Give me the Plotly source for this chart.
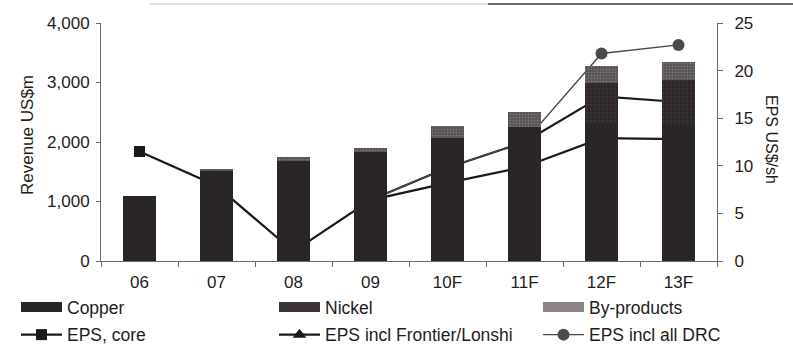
import plotly.graph_objects as go

# Revenue split (US$m) and EPS scenarios (US$/sh)
years = ["06", "07", "08", "09", "10F", "11F", "12F", "13F"]
copper = [1100, 1510, 1680, 1830, 2070, 2260, 2310, 2290]
nickel = [0, 0, 0, 0, 0, 0, 675, 760]
byproducts = [0, 40, 70, 70, 200, 240, 290, 300]
eps_core = [11.5, 7.9, 1.0, 6.4, 8.2, 9.9, 12.9, 12.8]
eps_frontier = [None, None, None, 6.4, 9.8, 12.5, 17.3, 16.7]
eps_drc = [None, None, None, 6.4, 9.8, 12.5, 21.8, 22.7]
rev_ticks = [0, 1000, 2000, 3000, 4000]
eps_ticks = [0, 5, 10, 15, 20, 25]

W, H = 793, 350
ML, MR, MT, MB = 101, 76, 23, 89
PW, PH = W - ML - MR, H - MT - MB
FONT = "Liberation Sans, Arial, sans-serif"
INK = "#1f1c1c"

def px_x(p):
    return (p - ML) / PW

def px_y(p):
    return (H - MB - p) / PH

fig = go.Figure()

# EPS lines on the primary (right-hand) axis so the bars sit on top of them
line_specs = [
    ("EPS, core", eps_core, "square", 11, "#1a1a1a", 2.2, "legend"),
    ("EPS incl Frontier/Lonshi", eps_frontier, "triangle-up", 12, "#1a1a1a", 2.2, "legend2"),
    ("EPS incl all DRC", eps_drc, "circle", 12, "#4a4a4a", 1.4, "legend3"),
]
for name, vals, sym, size, col, lw, leg in line_specs:
    fig.add_trace(go.Scatter(
        x=years, y=vals, name=name, mode="lines+markers", yaxis="y",
        line=dict(color=col, width=lw),
        marker=dict(symbol=sym, size=size, color=col),
        connectgaps=False, legend=leg, legendgroup=name, legendrank=2,
    ))

# Stacked revenue bars on the overlaying left axis
bar_specs = [
    ("Copper", copper, "#2a2526", None),
    ("Nickel", nickel, "#2e2829", dict(shape=".", fgcolor="#4a4445", size=4, solidity=0.2)),
    ("By-products", byproducts, "#555050", dict(shape=".", fgcolor="#9d9797", size=3, solidity=0.35)),
]
for name, vals, col, pat in bar_specs:
    mk = dict(color=col, line=dict(width=0))
    if pat:
        mk["pattern"] = pat
    fig.add_trace(go.Bar(
        x=years, y=vals, name=name, yaxis="y2", width=0.42,
        marker=mk, showlegend=False, legendgroup=name,
    ))

# Legend swatches for the bar series (one legend column each)
swatches = [
    ("Copper", "#2a2526", "legend"),
    ("Nickel", "#3a3435", "legend2"),
    ("By-products", "#8a8484", "legend3"),
]
for name, col, leg in swatches:
    fig.add_trace(go.Scatter(
        x=[None], y=[None], name=name, mode="lines", yaxis="y",
        line=dict(color=col, width=11), legend=leg, legendgroup=name, legendrank=1,
    ))

def legend_column(left_px):
    return dict(
        orientation="v", xref="container", x=left_px / W, xanchor="left",
        yref="container", y=1 - 289 / H, yanchor="top",
        itemwidth=41, font=dict(size=17.5, family=FONT, color=INK),
        bgcolor="rgba(0,0,0,0)", traceorder="grouped", tracegroupgap=2,
    )

fig.update_layout(
    width=W, height=H,
    margin=dict(l=ML, r=MR, t=MT, b=MB, autoexpand=False),
    paper_bgcolor="white", plot_bgcolor="rgba(0,0,0,0)",
    font=dict(family=FONT, size=17, color=INK),
    barmode="stack",
    showlegend=True,
    legend=legend_column(16),
    legend2=legend_column(274),
    legend3=legend_column(538),
    xaxis=dict(
        type="category", range=[-0.5, 7.5], showline=True, linecolor="#6a6a6a", linewidth=1,
        ticks="outside", tickson="boundaries", ticklen=5, tickcolor="#6a6a6a",
        showgrid=False, zeroline=False, ticklabelstandoff=6,
        tickfont=dict(size=17),
    ),
    yaxis=dict(
        side="right", range=[0, 25], tickvals=eps_ticks, showline=True,
        linecolor="#6a6a6a", linewidth=1, ticks="outside", ticklen=5, tickcolor="#6a6a6a",
        showgrid=False, zeroline=False, ticklabelstandoff=8, anchor="x",
        tickfont=dict(size=17),
    ),
    yaxis2=dict(
        side="left", overlaying="y", range=[0, 4000], tickvals=rev_ticks, tickformat=",d",
        showline=True, linecolor="#6a6a6a", linewidth=1, ticks="outside", ticklen=4,
        tickcolor="#6a6a6a", showgrid=False, zeroline=False, ticklabelstandoff=3, anchor="x",
        tickfont=dict(size=17),
    ),
    annotations=[
        dict(text="Revenue US$m", xref="paper", yref="paper", x=px_x(27), y=px_y(135),
             xanchor="center", yanchor="middle", textangle=-90, showarrow=False,
             font=dict(size=17)),
        dict(text="EPS US$/sh", xref="paper", yref="paper", x=px_x(772), y=px_y(140),
             xanchor="center", yanchor="middle", textangle=90, showarrow=False,
             font=dict(size=16)),
    ],
    shapes=[
        dict(type="line", xref="paper", yref="paper", x0=px_x(150), x1=px_x(488),
             y0=px_y(4), y1=px_y(4), line=dict(color="#c8c6c6", width=1)),
        dict(type="line", xref="paper", yref="paper", x0=px_x(488), x1=px_x(793),
             y0=px_y(4), y1=px_y(4), line=dict(color="#3a3a3a", width=1.5)),
    ],
)

fig.write_html("out.html")
